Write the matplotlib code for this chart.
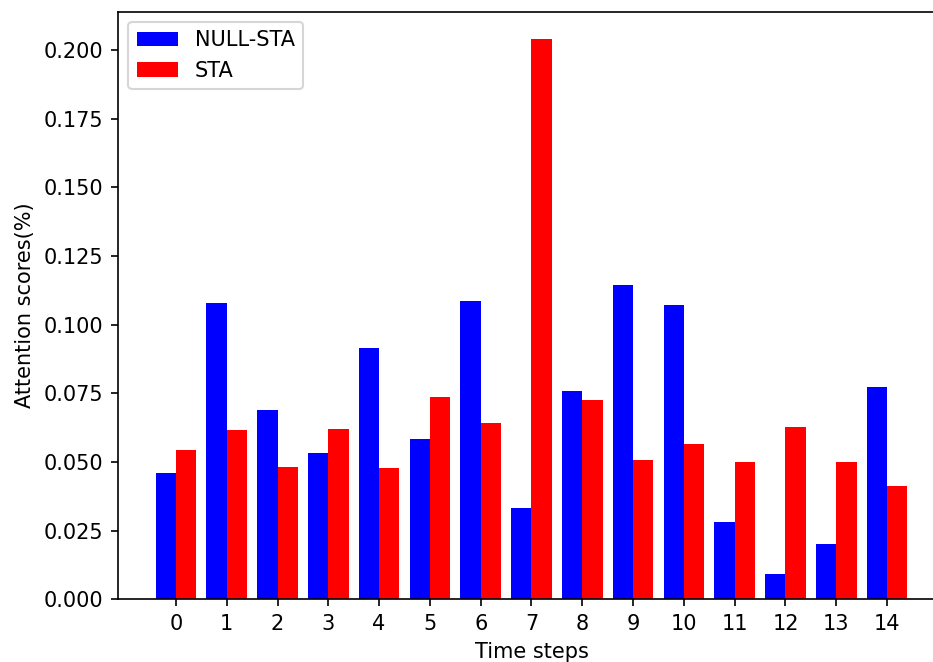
import matplotlib.pyplot as plt
import numpy as np

# attention scores per time step
steps = list(range(15))
null_sta = [0.0461, 0.1078, 0.0689, 0.0533, 0.0914, 0.0583, 0.1086, 0.0334,
            0.0759, 0.1146, 0.1072, 0.0280, 0.0092, 0.0203, 0.0773]
sta = [0.0543, 0.0618, 0.0483, 0.0621, 0.0477, 0.0737, 0.0641, 0.2039,
       0.0726, 0.0507, 0.0566, 0.0500, 0.0627, 0.0500, 0.0412]

dpi = 150
fig = plt.figure(figsize=(933 / dpi, 662 / dpi), dpi=dpi)
ax = fig.add_axes([118 / 933, 62.7 / 662, (945 - 118) / 933, (599.3 - 11.5) / 662])

x = np.arange(len(steps))
width = 0.4
ax.bar(x - width / 2, null_sta, width, color='blue', label='NULL-STA')
ax.bar(x + width / 2, sta, width, color='red', label='STA')

ax.set_xticks(x)
ax.set_xticklabels([str(s) for s in steps])
ax.set_xlabel('Time steps')
ax.set_ylabel('Attention scores(%)')
ax.legend(loc='upper left')

fig.savefig('out.png', dpi=dpi)
